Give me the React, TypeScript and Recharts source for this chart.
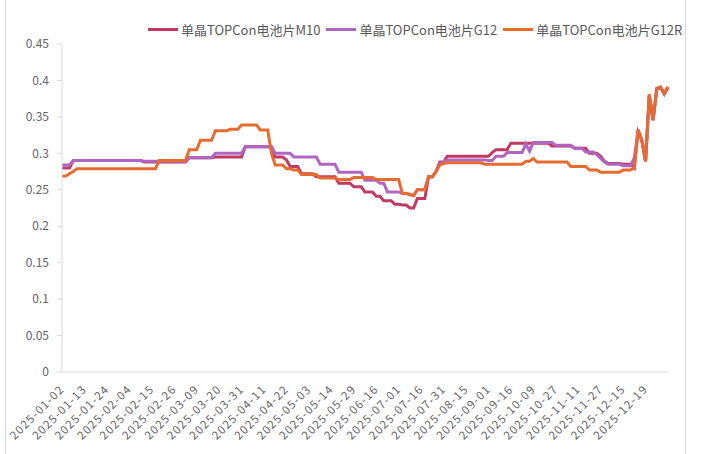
import { LineChart, Line, XAxis, YAxis } from 'recharts';

// x-axis labels, one every LABEL_STEP points
const tickLabels = [
  '2025-01-02', '2025-01-13', '2025-01-24', '2025-02-04', '2025-02-15', '2025-02-26',
  '2025-03-09', '2025-03-20', '2025-03-31', '2025-04-11', '2025-04-22', '2025-05-03',
  '2025-05-14', '2025-05-29', '2025-06-16', '2025-07-01', '2025-07-16', '2025-07-31',
  '2025-08-15', '2025-09-01', '2025-09-16', '2025-10-09', '2025-10-27', '2025-11-11',
  '2025-11-27', '2025-12-15', '2025-12-19',
];
const LABEL_STEP = 6;

const yTicks = [0, 0.05, 0.1, 0.15, 0.2, 0.25, 0.3, 0.35, 0.4, 0.45];

// 单晶TOPCon电池片M10
const m10 = [
  0.280, 0.280, 0.280, 0.290, 0.290, 0.290,
  0.290, 0.290, 0.290, 0.290, 0.290, 0.290,
  0.290, 0.290, 0.290, 0.290, 0.290, 0.290,
  0.290, 0.290, 0.290, 0.290, 0.288, 0.288,
  0.288, 0.288, 0.288, 0.288, 0.288, 0.288,
  0.288, 0.288, 0.288, 0.288, 0.294, 0.294,
  0.294, 0.294, 0.294, 0.294, 0.294, 0.295,
  0.295, 0.295, 0.295, 0.295, 0.295, 0.295,
  0.295, 0.309, 0.309, 0.309, 0.309, 0.309,
  0.309, 0.309, 0.309, 0.295, 0.295, 0.295,
  0.291, 0.282, 0.282, 0.282, 0.272, 0.272,
  0.272, 0.272, 0.268, 0.268, 0.268, 0.268,
  0.268, 0.268, 0.259, 0.259, 0.259, 0.259,
  0.254, 0.254, 0.254, 0.247, 0.247, 0.247,
  0.241, 0.241, 0.235, 0.235, 0.235, 0.230,
  0.230, 0.229, 0.229, 0.225, 0.225, 0.238,
  0.238, 0.238, 0.268, 0.268, 0.275, 0.288,
  0.288, 0.296, 0.296, 0.296, 0.296, 0.296,
  0.296, 0.296, 0.296, 0.296, 0.296, 0.296,
  0.296, 0.301, 0.305, 0.305, 0.305, 0.305,
  0.314, 0.314, 0.314, 0.314, 0.314, 0.314,
  0.314, 0.314, 0.314, 0.314, 0.314, 0.310,
  0.310, 0.310, 0.310, 0.310, 0.310, 0.307,
  0.307, 0.307, 0.307, 0.300, 0.300, 0.300,
  0.296, 0.289, 0.286, 0.286, 0.286, 0.286,
  0.285, 0.285, 0.285, 0.280, 0.332, 0.318,
  0.289, 0.380, 0.346, 0.389, 0.391, 0.382,
  0.391,
];

// 单晶TOPCon电池片G12
const g12 = [
  0.284, 0.284, 0.284, 0.290, 0.290, 0.290,
  0.290, 0.290, 0.290, 0.290, 0.290, 0.290,
  0.290, 0.290, 0.290, 0.290, 0.290, 0.290,
  0.290, 0.290, 0.290, 0.290, 0.289, 0.289,
  0.289, 0.289, 0.289, 0.289, 0.289, 0.289,
  0.289, 0.289, 0.289, 0.289, 0.294, 0.294,
  0.294, 0.294, 0.294, 0.294, 0.294, 0.300,
  0.300, 0.300, 0.300, 0.300, 0.300, 0.300,
  0.300, 0.309, 0.309, 0.309, 0.309, 0.309,
  0.309, 0.309, 0.309, 0.300, 0.300, 0.300,
  0.300, 0.300, 0.295, 0.295, 0.295, 0.295,
  0.295, 0.295, 0.295, 0.285, 0.285, 0.285,
  0.285, 0.285, 0.274, 0.274, 0.274, 0.274,
  0.274, 0.274, 0.274, 0.263, 0.263, 0.263,
  0.263, 0.259, 0.259, 0.247, 0.247, 0.247,
  0.247, 0.245, 0.245, 0.243, 0.242, 0.250,
  0.250, 0.250, 0.268, 0.268, 0.275, 0.286,
  0.288, 0.291, 0.291, 0.291, 0.291, 0.291,
  0.291, 0.291, 0.291, 0.291, 0.291, 0.291,
  0.290, 0.290, 0.296, 0.296, 0.296, 0.301,
  0.301, 0.301, 0.301, 0.301, 0.313, 0.303,
  0.315, 0.315, 0.315, 0.315, 0.315, 0.315,
  0.311, 0.311, 0.311, 0.311, 0.311, 0.307,
  0.307, 0.307, 0.302, 0.302, 0.302, 0.298,
  0.293, 0.288, 0.285, 0.285, 0.285, 0.285,
  0.283, 0.283, 0.283, 0.294, 0.330, 0.318,
  0.290, 0.379, 0.345, 0.388, 0.390, 0.381,
  0.390,
];

// 单晶TOPCon电池片G12R
const g12r = [
  0.269, 0.269, 0.272, 0.275, 0.279, 0.279,
  0.279, 0.279, 0.279, 0.279, 0.279, 0.279,
  0.279, 0.279, 0.279, 0.279, 0.279, 0.279,
  0.279, 0.279, 0.279, 0.279, 0.279, 0.279,
  0.279, 0.279, 0.290, 0.290, 0.290, 0.290,
  0.290, 0.290, 0.290, 0.290, 0.305, 0.305,
  0.305, 0.318, 0.318, 0.318, 0.318, 0.331,
  0.331, 0.331, 0.331, 0.333, 0.333, 0.333,
  0.339, 0.339, 0.339, 0.339, 0.339, 0.332,
  0.332, 0.332, 0.300, 0.284, 0.284, 0.284,
  0.279, 0.279, 0.277, 0.277, 0.271, 0.271,
  0.271, 0.271, 0.271, 0.266, 0.266, 0.266,
  0.266, 0.266, 0.264, 0.264, 0.264, 0.264,
  0.267, 0.267, 0.267, 0.267, 0.267, 0.267,
  0.264, 0.264, 0.264, 0.264, 0.264, 0.264,
  0.264, 0.245, 0.245, 0.244, 0.242, 0.250,
  0.250, 0.250, 0.268, 0.268, 0.275, 0.284,
  0.286, 0.287, 0.287, 0.287, 0.287, 0.287,
  0.287, 0.287, 0.287, 0.287, 0.287, 0.285,
  0.285, 0.285, 0.285, 0.285, 0.285, 0.285,
  0.285, 0.285, 0.285, 0.285, 0.289, 0.289,
  0.293, 0.288, 0.288, 0.288, 0.288, 0.288,
  0.288, 0.288, 0.288, 0.288, 0.282, 0.282,
  0.282, 0.282, 0.282, 0.277, 0.277, 0.277,
  0.274, 0.274, 0.274, 0.274, 0.274, 0.274,
  0.277, 0.277, 0.277, 0.280, 0.332, 0.318,
  0.289, 0.381, 0.346, 0.389, 0.391, 0.382,
  0.391,
];

const series = [
  { key: 'm10', name: '单晶TOPCon电池片M10', color: '#C03A62' },
  { key: 'g12', name: '单晶TOPCon电池片G12', color: '#B065C2' },
  { key: 'g12r', name: '单晶TOPCon电池片G12R', color: '#E56B2F' },
];

const data = m10.map((v, i) => ({ i, m10: v, g12: g12[i], g12r: g12r[i] }));

const FONT = '"Noto Sans CJK SC", "Noto Sans", sans-serif';

const DateTick = (props: any) => {
  const { x, y, payload } = props;
  const label = tickLabels[Math.round(payload.value / LABEL_STEP)];
  const tx = x + 3;
  const ty = y + 18;
  return (
    <text
      x={tx}
      y={ty}
      transform={`rotate(-45 ${tx} ${ty})`}
      textAnchor="end"
      fill="#666666"
      fontSize={11.5}
      letterSpacing={1.2}
      fontFamily={FONT}
    >
      {label}
    </text>
  );
};

const App = () => {
  return (
    <div style={{ position: 'absolute', left: 0, top: 0, width: 701, height: 454, background: '#fff', fontFamily: FONT }}>
      <div style={{ position: 'absolute', left: 5, top: 0, width: 1, height: 454, background: '#D9D9D9' }} />
      <div style={{ position: 'absolute', left: 685, top: 0, width: 1, height: 454, background: '#D9D9D9' }} />

      <div style={{ position: 'absolute', left: 148, top: 20, display: 'flex', alignItems: 'center', fontSize: 13, color: '#595959', whiteSpace: 'nowrap' }}>
        {series.map((s) => (
          <div key={s.key} style={{ display: 'flex', alignItems: 'center', marginRight: 6 }}>
            <span style={{ display: 'inline-block', width: 30, height: 3, background: s.color, marginRight: 3 }} />
            <span>{s.name}</span>
          </div>
        ))}
      </div>

      <LineChart width={701} height={454} data={data} margin={{ top: 44, right: 33, bottom: 0, left: 0 }}>
        <XAxis
          type="number"
          dataKey="i"
          domain={[0, m10.length - 1]}
          ticks={tickLabels.map((_, k) => k * LABEL_STEP)}
          interval={0}
          tick={<DateTick />}
          tickLine={false}
          tickSize={0}
          tickMargin={0}
          height={82}
          axisLine={{ stroke: '#D9D9D9' }}
        />
        <YAxis
          width={62}
          domain={[0, 0.45]}
          ticks={yTicks}
          interval={0}
          tickFormatter={(v: number) => String(Number(v.toFixed(2)))}
          tick={{ fill: '#666666', fontSize: 12, fontFamily: FONT }}
          tickSize={5}
          tickMargin={8}
          axisLine={{ stroke: '#D9D9D9' }}
          tickLine={{ stroke: '#D9D9D9' }}
        />
        {series.map((s) => (
          <Line
            key={s.key}
            type="linear"
            dataKey={s.key}
            name={s.name}
            stroke={s.color}
            strokeWidth={3}
            dot={false}
            isAnimationActive={false}
          />
        ))}
      </LineChart>
    </div>
  );
};

export default App;
